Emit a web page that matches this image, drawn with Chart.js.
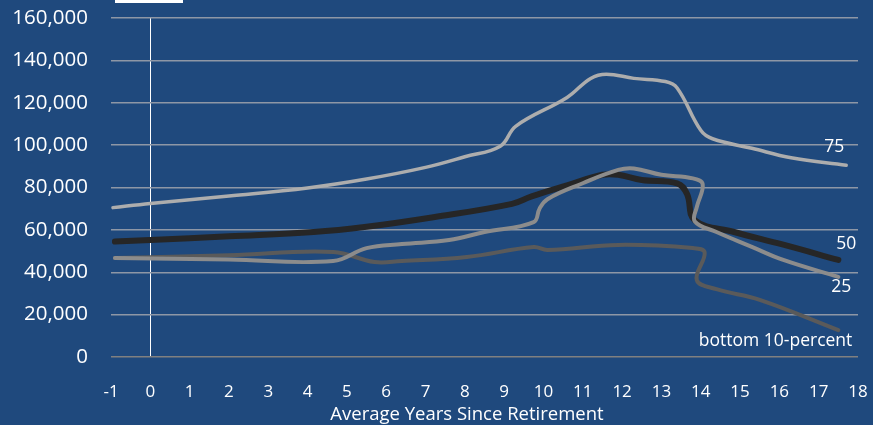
<!DOCTYPE html>
<html>
<head>
<meta charset="utf-8">
<script src="https://cdn.jsdelivr.net/npm/chart.js@4/dist/chart.umd.min.js"></script>
<style>
  html, body { margin: 0; padding: 0; background: #1F497D; }
  #wrap { width: 873px; height: 425px; }
</style>
</head>
<body>
<div id="wrap"><canvas id="chart"></canvas></div>
<script>
// Income by percentile, years since retirement
const yTicks = [0, 20000, 40000, 60000, 80000, 100000, 120000, 140000, 160000];
const xTitle = 'Average Years Since Retirement';

const p75Years = [-0.95, 0, 2, 4, 5.5, 7, 8, 8.9, 9.3, 10.6, 11.2, 11.6, 12.3, 13.1, 13.4, 14.0, 14.3, 15.3, 16.3, 17.7];
const p75Values = [70500, 72500, 76000, 79800, 84000, 89500, 94500, 99500, 109000, 122500, 131500, 133500, 131500, 130000, 127000, 107000, 103000, 98500, 94000, 90500];

const p50Years = [-0.9, 0, 2, 4.15, 5.5, 7.2, 9.2, 9.7, 10.6, 11.5, 11.9, 12.5, 13.4, 13.65, 13.85, 14.85, 16.1, 17.5];
const p50Values = [54500, 55200, 57000, 59000, 61500, 66000, 72300, 75800, 81000, 86000, 86000, 83500, 82000, 77000, 64500, 59000, 53000, 45800];

const p25Years = [-0.9, 2, 4.65, 5.5, 6.4, 7.6, 8.5, 9.75, 9.9, 10.1, 11.0, 11.9, 12.3, 13.0, 13.8, 14.05, 13.9, 13.85, 14.4, 15.3, 16.1, 17.5];
const p25Values = [46700, 46000, 45300, 51400, 53300, 55200, 59000, 63700, 70000, 74500, 82000, 88300, 89000, 86000, 84300, 81500, 70800, 64000, 59000, 52000, 45800, 37800];

const p10Years = [-0.9, 2, 4.65, 5.7, 6.4, 8.05, 9.75, 10.1, 11.9, 13.8, 14.1, 13.9, 14.4, 15.5, 17.5];
const p10Values = [46700, 48000, 49600, 44800, 45300, 47200, 51900, 50500, 52900, 51400, 49300, 36300, 32000, 27000, 12700];

const seriesNames = ['75', '50', '25', 'bottom 10-percent'];

function toPoints(xs, ys) {
    return xs.map((x, i) => ({ x: x, y: ys[i] }));
}

// line-end labels, axis title and the top legend swatch
const endLabels = {
    id: 'endLabels',
    afterDatasetsDraw(chart) {
        const ctx = chart.ctx;
        const offsets = [
            { dx: -12, dy: -18, align: 'center' },
            { dx: 8, dy: -16, align: 'center' },
            { dx: 3, dy: 10, align: 'center' },
            { dx: 14, dy: 11, align: 'right' }
        ];
        ctx.save();
        ctx.fillStyle = '#ffffff';
        ctx.font = '17.5px "Open Sans"';
        ctx.textBaseline = 'middle';
        chart.data.datasets.forEach((ds, i) => {
            const meta = chart.getDatasetMeta(i);
            const last = meta.data[meta.data.length - 1];
            const o = offsets[i];
            ctx.textAlign = o.align;
            ctx.fillText(ds.label, last.x + o.dx, last.y + o.dy);
        });
        ctx.font = '18.5px "Open Sans"';
        ctx.textAlign = 'center';
        ctx.fillText(xTitle, 467, 415);
        ctx.fillRect(115, 0, 68, 3);
        ctx.restore();
    }
};

new Chart(document.getElementById('chart'), {
    type: 'scatter',
    data: {
        datasets: [
            { label: seriesNames[0], data: toPoints(p75Years, p75Values), borderColor: '#ADADAD', borderWidth: 3.5, order: 3 },
            { label: seriesNames[1], data: toPoints(p50Years, p50Values), borderColor: '#262626', borderWidth: 6, order: 2 },
            { label: seriesNames[2], data: toPoints(p25Years, p25Values), borderColor: '#8C8C8C', borderWidth: 4, order: 1 },
            { label: seriesNames[3], data: toPoints(p10Years, p10Values), borderColor: '#5A5A5A', borderWidth: 4, order: 4 }
        ].map(d => Object.assign(d, {
            showLine: true,
            tension: 0.4,
            pointRadius: 0,
            borderCapStyle: 'round',
            borderJoinStyle: 'round',
            fill: false
        }))
    },
    options: {
        responsive: true,
        maintainAspectRatio: false,
        animation: false,
        layout: { padding: { top: 18, right: 15, left: 0, bottom: 0 } },
        plugins: {
            legend: { display: false },
            tooltip: { enabled: false }
        },
        scales: {
            x: {
                type: 'linear',
                min: -1,
                max: 18,
                border: { display: false },
                grid: {
                    drawTicks: false,
                    lineWidth: 1,
                    color: ctx => ctx.tick && ctx.tick.value === 0 ? '#ffffff' : 'rgba(0,0,0,0)'
                },
                ticks: {
                    stepSize: 1,
                    color: '#ffffff',
                    font: { family: 'Open Sans', size: 17 },
                    padding: 25
                },
                afterFit: scale => {
                    scale.height = 68;
                    scale.paddingLeft = 0;
                    scale.paddingRight = 0;
                }
            },
            y: {
                min: 0,
                max: 160000,
                border: { display: false },
                afterBuildTicks: scale => { scale.ticks = yTicks.map(v => ({ value: v })); },
                grid: {
                    drawTicks: false,
                    lineWidth: 1.5,
                    color: ctx => ctx.tick && ctx.tick.value === 0 ? '#808080' : '#8E97A6'
                },
                ticks: {
                    color: '#ffffff',
                    font: { family: 'Open Sans', size: 20.5 },
                    padding: 23,
                    callback: v => v.toLocaleString('en-US')
                },
                afterFit: scale => {
                    scale.width = 111;
                    scale.paddingTop = 0;
                    scale.paddingBottom = 0;
                }
            }
        }
    },
    plugins: [endLabels]
});
</script>
</body>
</html>
